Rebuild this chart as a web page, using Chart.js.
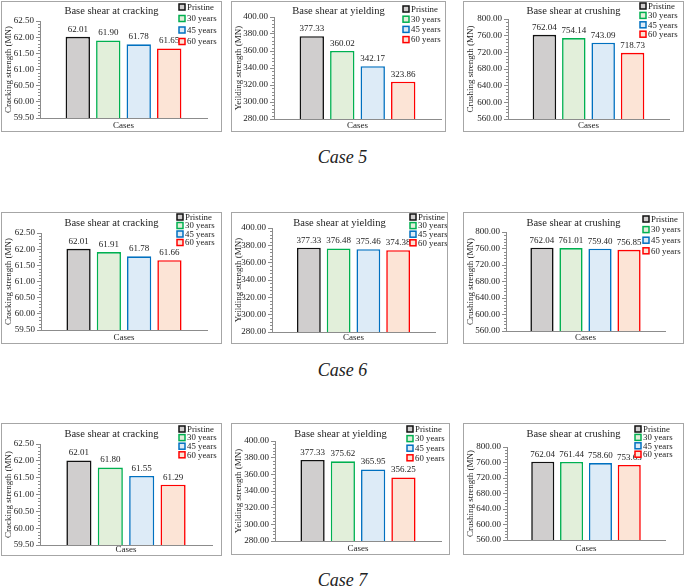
<!DOCTYPE html>
<html>
<head>
<meta charset="utf-8">
<script src="https://cdn.jsdelivr.net/npm/chart.js@4.4.1/dist/chart.umd.min.js"></script>
<style>
  body { margin: 0; background: #fff; width: 685px; height: 588px; position: relative; overflow: hidden; }
  .panel { position: absolute; border: 1px solid #a6a6a6; box-sizing: border-box; background: #fff; }
  .panel canvas { position: absolute; left: 0; top: 0; }
  .caption { position: absolute; left: 0; width: 685px; text-align: center; font: italic 18px "Liberation Serif", serif; line-height: 20px; color: #222; }
</style>
</head>
<body>
<div class="caption" style="top:147px">Case 5</div>
<div class="caption" style="top:360px">Case 6</div>
<div class="caption" style="top:570px">Case 7</div>
<script>
// series names and values
const ages = ['Pristine', '30 years', '45 years', '60 years'];

const cracking5 = [62.01, 61.90, 61.78, 61.65];
const yielding5 = [377.33, 360.02, 342.17, 323.86];
const crushing5 = [762.04, 754.14, 743.09, 718.73];

const cracking6 = [62.01, 61.91, 61.78, 61.66];
const yielding6 = [377.33, 376.48, 375.46, 374.38];
const crushing6 = [762.04, 761.01, 759.40, 756.85];

const cracking7 = [62.01, 61.80, 61.55, 61.29];
const yielding7 = [377.33, 375.62, 365.95, 356.25];
const crushing7 = [762.04, 761.44, 758.60, 753.63];

// y axis [min, max, step]
const crackingTicks = [59.5, 62.5, 0.5];
const yieldingTicks = [280, 400, 20];
const crushingTicks = [560, 800, 40];

const fills = ['#d0cece', '#e2efda', '#ddebf7', '#fce4d6'];
const borders = ['#111111', '#00b050', '#0070c0', '#ff0000'];

Chart.defaults.font.family = '"Liberation Serif", "Times New Roman", serif';
Chart.defaults.color = '#222';

// frame = panel box, area = plot area, leg = [x, y, row gap], ty = title y (page coords)
const panels = [
  { title: 'Base shear at cracking', ytitle: 'Cracking strength (MN)', data: cracking5, ticks: crackingTicks,
    frame: [1, 1, 221, 131], area: [40, 21, 207, 118], leg: [179, 7, 11.5], ty: 11 },
  { title: 'Base shear at yielding', ytitle: 'Yeilding strength (MN)', data: yielding5, ticks: yieldingTicks,
    frame: [231, 1, 215, 131], area: [274, 17, 441, 119], leg: [403, 9, 10.2], ty: 11 },
  { title: 'Base shear at crushing', ytitle: 'Crushing strength (MN)', data: crushing5, ticks: crushingTicks,
    frame: [463, 1, 221, 131], area: [508, 19, 669, 119], leg: [640, 6, 9.4], ty: 11 },
  { title: 'Base shear at cracking', ytitle: 'Cracking strength (MN)', data: cracking6, ticks: crackingTicks,
    frame: [1, 212, 221, 132], area: [41, 233, 207, 330], leg: [177, 217, 8.5], ty: 223 },
  { title: 'Base shear at yielding', ytitle: 'Yeilding strength (MN)', data: yielding6, ticks: yieldingTicks,
    frame: [231, 212, 217, 132], area: [272, 228, 435, 332], leg: [410, 217, 8.6], ty: 223 },
  { title: 'Base shear at crushing', ytitle: 'Crushing strength (MN)', data: crushing6, ticks: crushingTicks,
    frame: [463, 212, 221, 132], area: [506, 232, 665, 331], leg: [643, 219, 10.6], ty: 223 },
  { title: 'Base shear at cracking', ytitle: 'Cracking strength (MN)', data: cracking7, ticks: crackingTicks,
    frame: [1, 423, 221, 133], area: [40, 444, 212, 545], leg: [179, 429, 8.6], ty: 434 },
  { title: 'Base shear at yielding', ytitle: 'Yeilding strength (MN)', data: yielding7, ticks: yieldingTicks,
    frame: [231, 423, 219, 132], area: [275, 441, 441, 541], leg: [407, 429, 9.6], ty: 434 },
  { title: 'Base shear at crushing', ytitle: 'Crushing strength (MN)', data: crushing7, ticks: crushingTicks,
    frame: [463, 423, 221, 132], area: [507, 447, 665, 540], leg: [635, 429, 8.4], ty: 434 }
];

// title, legend, value labels and minor ticks
const decor = {
  id: 'decor',
  afterDraw(chart, args, opts) {
    const ctx = chart.ctx;
    const p = opts.panel;
    const ox = p.frame[0] + 1, oy = p.frame[1] + 1;
    ctx.save();

    // minor ticks on y axis
    const ys = chart.scales.y;
    const minor = p.ticks[2] / 5;
    ctx.strokeStyle = '#8c8c8c';
    ctx.lineWidth = 1;
    for (let i = 0; i <= Math.round((p.ticks[1] - p.ticks[0]) / minor); i++) {
      if (i % 5 === 0) continue;
      const py = Math.round(ys.getPixelForValue(p.ticks[0] + i * minor)) + 0.5;
      ctx.beginPath();
      ctx.moveTo(chart.chartArea.left - 2, py);
      ctx.lineTo(chart.chartArea.left, py);
      ctx.stroke();
    }

    // chart title
    ctx.fillStyle = '#222';
    ctx.font = '10.5px "Liberation Serif", serif';
    ctx.textAlign = 'center';
    ctx.textBaseline = 'middle';
    ctx.fillText(p.title, (p.frame[2] - 2) / 2, p.ty - oy);

    // value labels
    ctx.font = '9px "Liberation Serif", serif';
    ctx.textBaseline = 'bottom';
    chart.data.datasets.forEach((ds, i) => {
      const bar = chart.getDatasetMeta(i).data[0];
      ctx.fillText(ds.data[0].toFixed(2), bar.x, bar.y - 3);
    });

    // legend
    ctx.textAlign = 'left';
    ctx.textBaseline = 'middle';
    ctx.font = '8.8px "Liberation Serif", serif';
    ages.forEach((name, i) => {
      const lx = p.leg[0] - ox, ly = p.leg[1] + i * p.leg[2] - oy;
      ctx.fillStyle = fills[i];
      ctx.fillRect(lx, ly - 3, 6, 6);
      ctx.strokeStyle = borders[i];
      ctx.lineWidth = 1.5;
      ctx.strokeRect(lx, ly - 3, 6, 6);
      ctx.fillStyle = '#222';
      ctx.fillText(name, lx + 8, ly + 0.5);
    });
    ctx.restore();
  }
};

panels.forEach(p => {
  const [fx, fy, fw, fh] = p.frame;
  const cx = fx + 1, cy = fy + 1, cw = fw - 2, ch = fh - 2;
  const [al, at, ar, ab] = p.area;

  const div = document.createElement('div');
  div.className = 'panel';
  div.style.left = fx + 'px';
  div.style.top = fy + 'px';
  div.style.width = fw + 'px';
  div.style.height = fh + 'px';
  const canvas = document.createElement('canvas');
  canvas.width = cw;
  canvas.height = ch;
  canvas.style.width = cw + 'px';
  canvas.style.height = ch + 'px';
  div.appendChild(canvas);
  document.body.appendChild(div);

  new Chart(canvas.getContext('2d'), {
    type: 'bar',
    data: {
      labels: [''],
      datasets: ages.map((name, i) => ({
        label: name,
        data: [p.data[i]],
        backgroundColor: fills[i],
        borderColor: borders[i],
        borderWidth: 1.6,
        borderSkipped: false,
        categoryPercentage: 0.73,
        barPercentage: 0.8
      }))
    },
    options: {
      responsive: false,
      animation: false,
      layout: {
        padding: { left: 0, top: at - cy, right: cx + cw - ar, bottom: 0 }
      },
      plugins: {
        legend: { display: false },
        title: { display: false },
        tooltip: { enabled: false },
        decor: { panel: p }
      },
      scales: {
        x: {
          ticks: { display: false },
          grid: { display: false },
          border: { color: '#8c8c8c' },
          title: { display: true, text: 'Cases', font: { size: 9 }, color: '#222', padding: 0 },
          afterFit: s => { s.height = cy + ch - ab; }
        },
        y: {
          min: p.ticks[0],
          max: p.ticks[1],
          ticks: {
            stepSize: p.ticks[2],
            font: { size: 9 },
            color: '#222',
            padding: 2,
            callback: v => Number(v).toFixed(2)
          },
          grid: { drawOnChartArea: false, tickLength: 4, color: '#8c8c8c' },
          border: { color: '#8c8c8c' },
          title: { display: true, text: p.ytitle, font: { size: 9 }, color: '#222', padding: { top: 1, bottom: 1 } },
          afterFit: s => { s.width = al - cx; }
        }
      }
    },
    plugins: [decor]
  });
});
</script>
</body>
</html>
